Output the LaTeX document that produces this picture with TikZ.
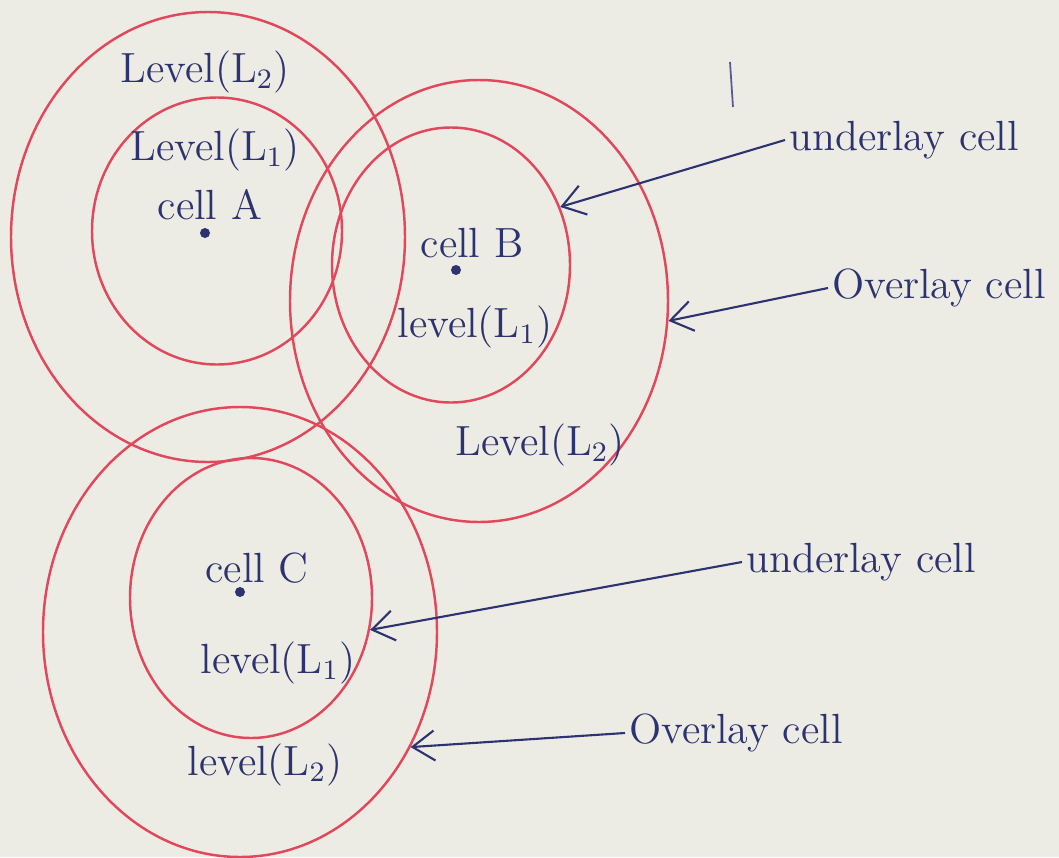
\documentclass[tikz,border=0pt]{standalone}
\usetikzlibrary{shapes.geometric,arrows.meta}

\definecolor{pen}{RGB}{226,72,92}
\definecolor{ink}{RGB}{45,50,112}
\definecolor{paper}{RGB}{236,236,228}

\tikzset{
  ring/.style={draw=pen, line width=0.7pt, ellipse, inner sep=0pt},
  lbl/.style={text=ink, inner sep=1pt, font=\fontsize{12}{14}\selectfont},
  dot/.style={circle, fill=ink, inner sep=0pt, minimum size=1mm},
  ptr/.style={draw=ink, line width=0.6pt, -{Straight Barb[length=2.2mm,width=3mm]}},
}

\begin{document}
\begin{tikzpicture}
\fill[paper] (0,0) rectangle (10.59,-8.57);
\clip (0,0) rectangle (10.59,-8.57);

% cells, outer ring = level L2, inner ring = level L1
\node[ring, minimum width=3.94cm, minimum height=4.50cm] (Aout) at (2.08,-2.37) {};
\node[ring, minimum width=2.50cm, minimum height=2.67cm] (Ain) at (2.17,-2.31) {};
\node[ring, minimum width=3.78cm, minimum height=4.42cm] (Bout) at (4.79,-3.01) {};
\node[ring, minimum width=2.38cm, minimum height=2.75cm] (Bin) at (4.51,-2.65) {};
\node[ring, minimum width=3.94cm, minimum height=4.50cm] (Cout) at (2.40,-6.32) {};
\node[ring, minimum width=2.42cm, minimum height=2.80cm] (Cin) at (2.51,-5.98) {};

% cell centres
\node[dot] (ca) at (2.05,-2.33) {};
\node[dot] (cb) at (4.56,-2.70) {};
\node[dot] (cc) at (2.40,-5.92) {};

\node[lbl] (a2) at (2.05,-0.72) {Level(L\textsubscript{2})};
\node[lbl] (a1) at (2.15,-1.50) {Level(L\textsubscript{1})};
\node[lbl] (na) at (2.10,-2.05) {cell A};

\node[lbl] (nb) at (4.72,-2.43) {cell B};
\node[lbl] (b1) at (4.75,-3.27) {level(L\textsubscript{1})};
\node[lbl] (b2) at (5.40,-4.45) {Level(L\textsubscript{2})};

\node[lbl] (nc) at (2.57,-5.68) {cell C};
\node[lbl] (c1) at (2.78,-6.63) {level(L\textsubscript{1})};
\node[lbl] (c2) at (2.65,-7.65) {level(L\textsubscript{2})};

% side notes
\node[lbl, anchor=west] (u1) at (7.85,-1.40) {underlay cell};
\node[lbl, anchor=west] (o1) at (8.28,-2.88) {Overlay cell};
\node[lbl, anchor=west] (u2) at (7.42,-5.62) {underlay cell};
\node[lbl, anchor=west] (o2) at (6.25,-7.33) {Overlay cell};

\draw[ptr] (u1.west) -- (Bin.28);
\draw[ptr] (o1.west) -- (Bout.-6);
\draw[ptr] (u2.west) -- (Cin.-15);
\draw[ptr] (o2.west) -- (Cout.-34);

% stray pen stroke
\draw[ink!80, line width=0.5pt] (7.30,-0.62) -- (7.33,-1.07);
\end{tikzpicture}
\end{document}
